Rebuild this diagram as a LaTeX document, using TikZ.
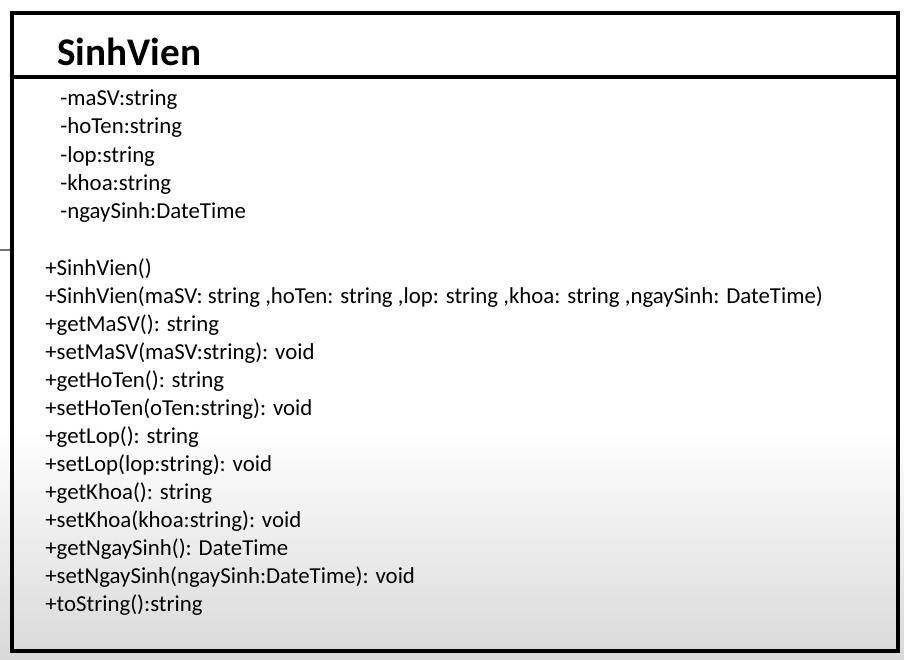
\documentclass[tikz,border=0pt]{standalone}
\usepackage{fontspec}
\setmainfont{Carlito}

\tikzset{
  attr/.style={anchor=base west, inner sep=0pt, font=\fontsize{13}{15}\selectfont},
  meth/.style={anchor=base west, inner sep=0pt, font=\fontsize{13}{15}\selectfont},
}

\begin{document}
\begin{tikzpicture}[x=0.02cm,y=-0.02cm]

\useasboundingbox (0,0) rectangle (904,660);

% fondo
\fill[white] (0,0) rectangle (904,427);
\shade[top color=white, bottom color=black!15] (0,427) rectangle (904,660);

\draw[black!55, line width=0.8pt] (0,250) -- (12,250);

% clase
\draw[line width=2.8pt] (12,13) rectangle (898,651);
\draw[line width=2.8pt] (12,77) -- (898,77);

\node[anchor=base west, inner sep=0pt, font=\fontsize{22.3}{24}\selectfont\bfseries] (nombre) at (57,65) {SinhVien};

% atributos
\node[attr] (a1) at (60,105) {-maSV:string};
\node[attr] (a2) at (60,133) {-hoTen:string};
\node[attr] (a3) at (60,162) {-lop:string};
\node[attr] (a4) at (60,190) {-khoa:string};
\node[attr] (a5) at (60,218) {-ngaySinh:DateTime};

% metodos
\node[meth] (m1) at (45,275) {+SinhVien()};
\node[meth] (m2) at (45,303) {+SinhVien(maSV: string ,hoTen: string ,lop: string ,khoa: string ,ngaySinh: DateTime)};
\node[meth] (m3) at (45,331) {+getMaSV(): string};
\node[meth] (m4) at (45,359) {+setMaSV(maSV:string): void};
\node[meth] (m5) at (45,387) {+getHoTen(): string};
\node[meth] (m6) at (45,415) {+setHoTen(oTen:string): void};
\node[meth] (m7) at (45,443) {+getLop(): string};
\node[meth] (m8) at (45,471) {+setLop(lop:string): void};
\node[meth] (m9) at (45,499) {+getKhoa(): string};
\node[meth] (m10) at (45,527) {+setKhoa(khoa:string): void};
\node[meth] (m11) at (45,555) {+getNgaySinh(): DateTime};
\node[meth] (m12) at (45,583) {+setNgaySinh(ngaySinh:DateTime): void};
\node[meth] (m13) at (45,611) {+toString():string};

\end{tikzpicture}
\end{document}
